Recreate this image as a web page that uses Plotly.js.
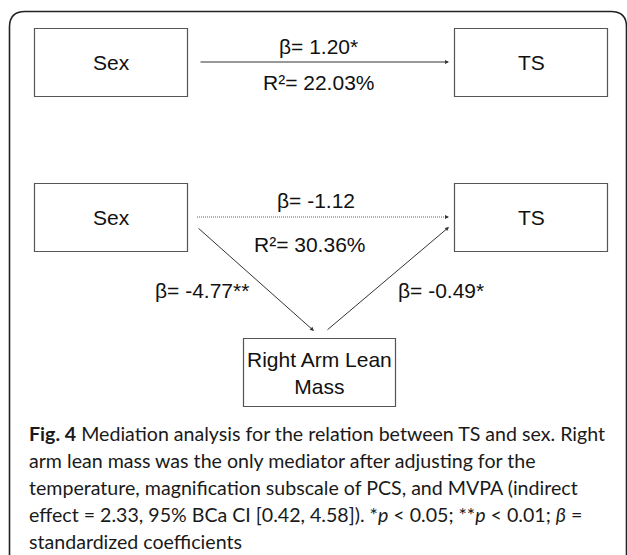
<!DOCTYPE html>
<html>
<head>
<meta charset="utf-8">
<script src="https://cdn.plot.ly/plotly-3.0.1.min.js"></script>
<style>html,body{margin:0;padding:0;background:#fff;}#chart{width:627px;height:555px;}</style>
</head>
<body>
<div id="chart"></div>
<script>
// ---- data ----
var nodeLabels = ['Sex', 'TS', 'Sex', 'TS', 'Right Arm Lean<br>Mass'];
var totalBeta = '1.20*';
var totalR2 = '22.03%';
var directBeta = '-1.12';
var mediatedR2 = '30.36%';
var pathABeta = '-4.77**';
var pathBBeta = '-0.49*';
var captionLines = [
  '<b>Fig. 4</b> Mediation analysis for the relation between TS and sex. Right',
  'arm lean mass was the only mediator after adjusting for the',
  'temperature, magnification subscale of PCS, and MVPA (indirect',
  'effect = 2.33, 95% BCa CI [0.42, 4.58]). *<i>p</i> &lt; 0.05; **<i>p</i> &lt; 0.01; <i>β</i> =',
  'standardized coefficients'
];

// ---- layout geometry ----
var boxes = [
  {x0: 34.5, x1: 187.5, y0: 28.5, y1: 96.5},
  {x0: 454.5, x1: 607.5, y0: 28.5, y1: 96.5},
  {x0: 34.5, x1: 187.5, y0: 183.5, y1: 251.5},
  {x0: 454.5, x1: 607.5, y0: 183.5, y1: 251.5},
  {x0: 243.5, x1: 395.5, y0: 338.5, y1: 406.5}
];
var diagFont = {family: 'Liberation Sans, Arial, sans-serif', size: 21, color: '#111'};
var capFont = {family: 'Lato, sans-serif', size: 19.6, color: '#1a1a1a'};
var lineCol = '#333';

var shapes = [];
var annotations = [];

// outer rounded frame
shapes.push({type: 'path', xref: 'x', yref: 'y',
  path: 'M 9.5 570 L 9.5 27 Q 9.5 11.5 25 11.5 L 611 11.5 Q 626.5 11.5 626.5 27 L 626.5 570',
  line: {color: '#222', width: 1.6}});

boxes.forEach(function (b, i) {
  shapes.push({type: 'rect', xref: 'x', yref: 'y', x0: b.x0, x1: b.x1, y0: b.y0, y1: b.y1,
    line: {color: '#555', width: 1.2}, fillcolor: 'rgba(0,0,0,0)'});
  annotations.push({x: (b.x0 + b.x1) / 2, y: (b.y0 + b.y1) / 2, xref: 'x', yref: 'y',
    text: nodeLabels[i], showarrow: false, font: diagFont, align: 'center'});
});

function arrow(x0, y0, x1, y1) {
  annotations.push({x: x1, y: y1, ax: x0, ay: y0, xref: 'x', yref: 'y', axref: 'x', ayref: 'y',
    text: '', showarrow: true, arrowhead: 2, arrowsize: 0.8, arrowwidth: 1, arrowcolor: lineCol, standoff: 0});
}
// top total effect
arrow(199, 62, 449, 62);
// dotted direct effect
shapes.push({type: 'line', xref: 'x', yref: 'y', x0: 197, y0: 217, x1: 446, y1: 217,
  line: {color: '#666', width: 1, dash: '1px,1px'}});
arrow(445, 217, 449, 217);
// a path
arrow(197, 227, 314, 331);
// b path
arrow(326, 331, 449, 227);

function label(x, y, t) {
  annotations.push({x: x, y: y, xref: 'x', yref: 'y', text: t, showarrow: false, font: diagFont});
}
label(318, 46, 'β= ' + totalBeta);
label(318, 82, 'R²= ' + totalR2);
label(316, 200, 'β= ' + directBeta);
label(309, 244, 'R²= ' + mediatedR2);
label(202, 290, 'β= ' + pathABeta);
label(441, 290, 'β= ' + pathBBeta);

captionLines.forEach(function (t, i) {
  annotations.push({x: 27, y: 433 + i * 27, xref: 'x', yref: 'y', xanchor: 'left', yanchor: 'middle',
    text: t, showarrow: false, font: capFont, align: 'left'});
});

var layout = {
  width: 627, height: 555,
  margin: {l: 0, r: 0, t: 0, b: 0},
  paper_bgcolor: '#fff', plot_bgcolor: '#fff',
  xaxis: {range: [0, 627], visible: false, fixedrange: true},
  yaxis: {range: [555, 0], visible: false, fixedrange: true},
  showlegend: false,
  shapes: shapes,
  annotations: annotations
};
Plotly.newPlot('chart', [], layout, {staticPlot: true, displayModeBar: false});
</script>
</body>
</html>
